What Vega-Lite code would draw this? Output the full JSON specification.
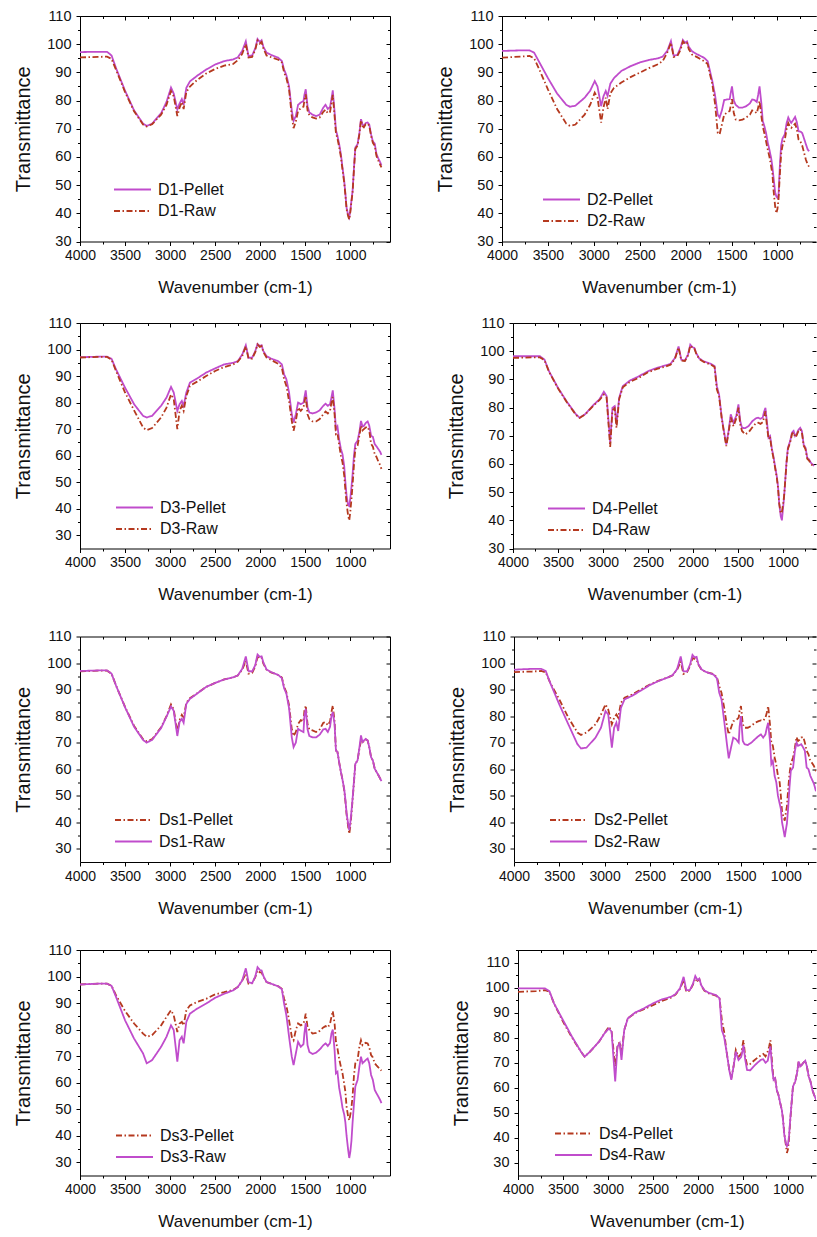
{
"$schema":"https://vega.github.io/schema/vega-lite/v6.json",
"padding":{"left":13,"top":8,"right":0,"bottom":0},
"background":"white",
"config":{"view":{"stroke":null},"font":"Liberation Sans",
"axis":{"domainColor":"#000","tickColor":"#000","labelColor":"#111","titleColor":"#111","labelFont":"Liberation Sans","titleFont":"Liberation Sans","titleFontWeight":"normal","grid":false,"tickWidth":1,"domainWidth":1,"labelFontSize":14},
"axisLeft":{"labelFontSize":14.5,"labelPadding":5,"titlePadding":13,"titleFontSize":20},
"axisBottom":{"titlePadding":17,"titleFontSize":17,"labelPadding":3},
"legend":{"labelFont":"Liberation Sans","labelColor":"#111"}},
"datasets":{
"D1":[{"x":4000,"D1-Pellet":97.2,"D1-Raw":95.3},{"x":3800,"D1-Pellet":97.3,"D1-Raw":95.5},{"x":3700,"D1-Pellet":97.3,"D1-Raw":95.6},{"x":3650,"D1-Pellet":96.0,"D1-Raw":94.8},{"x":3600,"D1-Pellet":91.5,"D1-Raw":90.9},{"x":3500,"D1-Pellet":83.5,"D1-Raw":83.0},{"x":3400,"D1-Pellet":76.5,"D1-Raw":76.2},{"x":3300,"D1-Pellet":71.8,"D1-Raw":71.5},{"x":3260,"D1-Pellet":71.0,"D1-Raw":70.8},{"x":3200,"D1-Pellet":71.8,"D1-Raw":71.6},{"x":3100,"D1-Pellet":75.5,"D1-Raw":75.0},{"x":3040,"D1-Pellet":79.5,"D1-Raw":78.5},{"x":2990,"D1-Pellet":84.6,"D1-Raw":83.4},{"x":2960,"D1-Pellet":82.5,"D1-Raw":81.5},{"x":2920,"D1-Pellet":76.8,"D1-Raw":74.5},{"x":2895,"D1-Pellet":79.0,"D1-Raw":77.5},{"x":2870,"D1-Pellet":80.5,"D1-Raw":79.5},{"x":2850,"D1-Pellet":78.5,"D1-Raw":77.0},{"x":2820,"D1-Pellet":84.5,"D1-Raw":83.0},{"x":2780,"D1-Pellet":86.8,"D1-Raw":85.0},{"x":2700,"D1-Pellet":88.8,"D1-Raw":87.3},{"x":2600,"D1-Pellet":91.0,"D1-Raw":89.6},{"x":2500,"D1-Pellet":92.8,"D1-Raw":91.2},{"x":2400,"D1-Pellet":94.0,"D1-Raw":92.4},{"x":2300,"D1-Pellet":94.6,"D1-Raw":93.0},{"x":2250,"D1-Pellet":95.3,"D1-Raw":94.3},{"x":2200,"D1-Pellet":97.6,"D1-Raw":96.6},{"x":2160,"D1-Pellet":101.0,"D1-Raw":100.0},{"x":2130,"D1-Pellet":95.8,"D1-Raw":95.3},{"x":2090,"D1-Pellet":96.0,"D1-Raw":95.5},{"x":2055,"D1-Pellet":98.5,"D1-Raw":98.0},{"x":2030,"D1-Pellet":101.8,"D1-Raw":101.3},{"x":2005,"D1-Pellet":100.8,"D1-Raw":100.2},{"x":1985,"D1-Pellet":101.4,"D1-Raw":100.8},{"x":1965,"D1-Pellet":99.0,"D1-Raw":98.5},{"x":1930,"D1-Pellet":97.0,"D1-Raw":96.0},{"x":1880,"D1-Pellet":96.2,"D1-Raw":95.4},{"x":1800,"D1-Pellet":95.2,"D1-Raw":94.5},{"x":1760,"D1-Pellet":94.0,"D1-Raw":93.5},{"x":1735,"D1-Pellet":91.0,"D1-Raw":90.0},{"x":1710,"D1-Pellet":89.0,"D1-Raw":88.0},{"x":1680,"D1-Pellet":85.0,"D1-Raw":84.0},{"x":1650,"D1-Pellet":76.5,"D1-Raw":74.5},{"x":1630,"D1-Pellet":72.8,"D1-Raw":70.2},{"x":1605,"D1-Pellet":74.5,"D1-Raw":72.5},{"x":1580,"D1-Pellet":78.5,"D1-Raw":76.3},{"x":1550,"D1-Pellet":79.3,"D1-Raw":77.3},{"x":1520,"D1-Pellet":79.8,"D1-Raw":77.8},{"x":1510,"D1-Pellet":82.0,"D1-Raw":80.0},{"x":1495,"D1-Pellet":84.0,"D1-Raw":82.2},{"x":1475,"D1-Pellet":78.0,"D1-Raw":76.5},{"x":1455,"D1-Pellet":75.8,"D1-Raw":74.8},{"x":1420,"D1-Pellet":75.0,"D1-Raw":74.0},{"x":1380,"D1-Pellet":74.5,"D1-Raw":73.6},{"x":1340,"D1-Pellet":75.0,"D1-Raw":74.0},{"x":1300,"D1-Pellet":77.5,"D1-Raw":76.0},{"x":1275,"D1-Pellet":78.5,"D1-Raw":76.8},{"x":1250,"D1-Pellet":77.0,"D1-Raw":75.5},{"x":1225,"D1-Pellet":77.8,"D1-Raw":76.0},{"x":1210,"D1-Pellet":80.5,"D1-Raw":79.0},{"x":1195,"D1-Pellet":83.6,"D1-Raw":82.0},{"x":1175,"D1-Pellet":76.0,"D1-Raw":74.5},{"x":1160,"D1-Pellet":69.5,"D1-Raw":68.5},{"x":1143,"D1-Pellet":67.5,"D1-Raw":66.5},{"x":1124,"D1-Pellet":64.5,"D1-Raw":63.5},{"x":1105,"D1-Pellet":61.0,"D1-Raw":60.0},{"x":1087,"D1-Pellet":56.2,"D1-Raw":55.5},{"x":1068,"D1-Pellet":51.5,"D1-Raw":50.8},{"x":1055,"D1-Pellet":47.0,"D1-Raw":46.5},{"x":1042,"D1-Pellet":42.0,"D1-Raw":41.5},{"x":1025,"D1-Pellet":39.5,"D1-Raw":39.0},{"x":1012,"D1-Pellet":38.5,"D1-Raw":37.8},{"x":1000,"D1-Pellet":41.0,"D1-Raw":40.5},{"x":988,"D1-Pellet":44.5,"D1-Raw":44.0},{"x":975,"D1-Pellet":48.0,"D1-Raw":47.5},{"x":960,"D1-Pellet":56.0,"D1-Raw":55.5},{"x":945,"D1-Pellet":63.3,"D1-Raw":62.8},{"x":920,"D1-Pellet":64.5,"D1-Raw":64.0},{"x":900,"D1-Pellet":68.5,"D1-Raw":68.0},{"x":882,"D1-Pellet":73.4,"D1-Raw":73.0},{"x":865,"D1-Pellet":71.5,"D1-Raw":71.0},{"x":850,"D1-Pellet":71.0,"D1-Raw":70.5},{"x":830,"D1-Pellet":72.0,"D1-Raw":71.6},{"x":808,"D1-Pellet":72.2,"D1-Raw":71.8},{"x":790,"D1-Pellet":71.5,"D1-Raw":71.0},{"x":770,"D1-Pellet":68.0,"D1-Raw":67.5},{"x":750,"D1-Pellet":65.5,"D1-Raw":65.0},{"x":730,"D1-Pellet":64.8,"D1-Raw":64.0},{"x":710,"D1-Pellet":61.0,"D1-Raw":60.3},{"x":690,"D1-Pellet":59.5,"D1-Raw":58.7},{"x":670,"D1-Pellet":58.2,"D1-Raw":57.3},{"x":655,"D1-Pellet":57.0,"D1-Raw":56.3}],
"D2":[{"x":4000,"D2-Pellet":97.6,"D2-Raw":95.2},{"x":3800,"D2-Pellet":97.8,"D2-Raw":95.6},{"x":3700,"D2-Pellet":97.8,"D2-Raw":95.8},{"x":3650,"D2-Pellet":97.0,"D2-Raw":95.0},{"x":3600,"D2-Pellet":94.0,"D2-Raw":91.5},{"x":3500,"D2-Pellet":88.0,"D2-Raw":84.0},{"x":3400,"D2-Pellet":82.5,"D2-Raw":77.0},{"x":3300,"D2-Pellet":78.5,"D2-Raw":71.8},{"x":3260,"D2-Pellet":77.8,"D2-Raw":71.0},{"x":3200,"D2-Pellet":78.2,"D2-Raw":71.5},{"x":3100,"D2-Pellet":81.0,"D2-Raw":75.0},{"x":3040,"D2-Pellet":83.5,"D2-Raw":78.5},{"x":2990,"D2-Pellet":86.9,"D2-Raw":82.8},{"x":2960,"D2-Pellet":85.0,"D2-Raw":81.0},{"x":2920,"D2-Pellet":78.0,"D2-Raw":72.2},{"x":2895,"D2-Pellet":81.5,"D2-Raw":77.5},{"x":2870,"D2-Pellet":83.4,"D2-Raw":81.0},{"x":2850,"D2-Pellet":81.6,"D2-Raw":77.0},{"x":2820,"D2-Pellet":86.0,"D2-Raw":82.5},{"x":2780,"D2-Pellet":88.0,"D2-Raw":84.5},{"x":2700,"D2-Pellet":90.5,"D2-Raw":86.4},{"x":2600,"D2-Pellet":92.2,"D2-Raw":88.3},{"x":2500,"D2-Pellet":93.5,"D2-Raw":89.9},{"x":2400,"D2-Pellet":94.4,"D2-Raw":91.5},{"x":2300,"D2-Pellet":95.0,"D2-Raw":92.9},{"x":2250,"D2-Pellet":95.6,"D2-Raw":94.0},{"x":2200,"D2-Pellet":97.6,"D2-Raw":97.0},{"x":2160,"D2-Pellet":101.1,"D2-Raw":100.5},{"x":2130,"D2-Pellet":95.9,"D2-Raw":95.5},{"x":2090,"D2-Pellet":96.2,"D2-Raw":95.8},{"x":2055,"D2-Pellet":98.8,"D2-Raw":98.0},{"x":2030,"D2-Pellet":101.5,"D2-Raw":101.0},{"x":2005,"D2-Pellet":100.5,"D2-Raw":100.0},{"x":1985,"D2-Pellet":101.0,"D2-Raw":100.4},{"x":1965,"D2-Pellet":99.0,"D2-Raw":98.2},{"x":1930,"D2-Pellet":97.5,"D2-Raw":96.3},{"x":1880,"D2-Pellet":96.5,"D2-Raw":95.5},{"x":1800,"D2-Pellet":95.2,"D2-Raw":94.0},{"x":1760,"D2-Pellet":94.0,"D2-Raw":93.0},{"x":1735,"D2-Pellet":90.5,"D2-Raw":89.3},{"x":1710,"D2-Pellet":87.0,"D2-Raw":86.0},{"x":1680,"D2-Pellet":82.0,"D2-Raw":79.0},{"x":1650,"D2-Pellet":75.0,"D2-Raw":68.5},{"x":1630,"D2-Pellet":74.0,"D2-Raw":68.0},{"x":1605,"D2-Pellet":76.5,"D2-Raw":71.5},{"x":1580,"D2-Pellet":80.2,"D2-Raw":75.0},{"x":1550,"D2-Pellet":80.4,"D2-Raw":75.7},{"x":1520,"D2-Pellet":80.5,"D2-Raw":76.3},{"x":1510,"D2-Pellet":82.5,"D2-Raw":78.0},{"x":1495,"D2-Pellet":85.0,"D2-Raw":80.5},{"x":1475,"D2-Pellet":80.0,"D2-Raw":75.5},{"x":1455,"D2-Pellet":78.5,"D2-Raw":73.3},{"x":1420,"D2-Pellet":77.5,"D2-Raw":73.0},{"x":1380,"D2-Pellet":77.5,"D2-Raw":73.2},{"x":1340,"D2-Pellet":78.0,"D2-Raw":74.0},{"x":1300,"D2-Pellet":79.0,"D2-Raw":75.0},{"x":1275,"D2-Pellet":80.4,"D2-Raw":76.5},{"x":1250,"D2-Pellet":80.2,"D2-Raw":76.2},{"x":1225,"D2-Pellet":79.5,"D2-Raw":75.5},{"x":1210,"D2-Pellet":82.0,"D2-Raw":77.5},{"x":1195,"D2-Pellet":85.0,"D2-Raw":79.8},{"x":1175,"D2-Pellet":79.0,"D2-Raw":74.5},{"x":1160,"D2-Pellet":72.7,"D2-Raw":70.9},{"x":1143,"D2-Pellet":71.0,"D2-Raw":68.5},{"x":1124,"D2-Pellet":68.5,"D2-Raw":65.5},{"x":1105,"D2-Pellet":65.0,"D2-Raw":62.5},{"x":1087,"D2-Pellet":62.5,"D2-Raw":60.0},{"x":1068,"D2-Pellet":59.5,"D2-Raw":56.5},{"x":1055,"D2-Pellet":56.5,"D2-Raw":54.0},{"x":1042,"D2-Pellet":52.5,"D2-Raw":48.0},{"x":1025,"D2-Pellet":47.5,"D2-Raw":42.5},{"x":1012,"D2-Pellet":46.0,"D2-Raw":40.0},{"x":1000,"D2-Pellet":45.5,"D2-Raw":41.5},{"x":988,"D2-Pellet":46.5,"D2-Raw":45.0},{"x":975,"D2-Pellet":56.0,"D2-Raw":53.0},{"x":960,"D2-Pellet":64.0,"D2-Raw":61.0},{"x":945,"D2-Pellet":66.5,"D2-Raw":64.0},{"x":920,"D2-Pellet":68.0,"D2-Raw":66.0},{"x":900,"D2-Pellet":72.0,"D2-Raw":70.0},{"x":882,"D2-Pellet":74.0,"D2-Raw":72.0},{"x":865,"D2-Pellet":72.8,"D2-Raw":70.8},{"x":850,"D2-Pellet":72.1,"D2-Raw":70.3},{"x":830,"D2-Pellet":73.0,"D2-Raw":71.0},{"x":808,"D2-Pellet":74.2,"D2-Raw":71.8},{"x":790,"D2-Pellet":72.5,"D2-Raw":70.0},{"x":770,"D2-Pellet":69.1,"D2-Raw":66.2},{"x":750,"D2-Pellet":69.0,"D2-Raw":65.5},{"x":730,"D2-Pellet":68.5,"D2-Raw":64.0},{"x":710,"D2-Pellet":66.5,"D2-Raw":61.5},{"x":690,"D2-Pellet":64.5,"D2-Raw":59.0},{"x":670,"D2-Pellet":62.6,"D2-Raw":57.3},{"x":655,"D2-Pellet":62.0,"D2-Raw":56.5}],
"D3":[{"x":4000,"D3-Pellet":97.1,"D3-Raw":97.0},{"x":3800,"D3-Pellet":97.3,"D3-Raw":97.2},{"x":3700,"D3-Pellet":97.3,"D3-Raw":97.2},{"x":3650,"D3-Pellet":96.5,"D3-Raw":96.2},{"x":3600,"D3-Pellet":92.5,"D3-Raw":91.9},{"x":3500,"D3-Pellet":85.6,"D3-Raw":83.8},{"x":3400,"D3-Pellet":79.4,"D3-Raw":77.1},{"x":3300,"D3-Pellet":75.0,"D3-Raw":70.6},{"x":3260,"D3-Pellet":74.4,"D3-Raw":69.6},{"x":3200,"D3-Pellet":75.0,"D3-Raw":70.4},{"x":3100,"D3-Pellet":78.8,"D3-Raw":74.4},{"x":3040,"D3-Pellet":81.9,"D3-Raw":78.1},{"x":2990,"D3-Pellet":85.9,"D3-Raw":83.1},{"x":2960,"D3-Pellet":83.8,"D3-Raw":81.3},{"x":2920,"D3-Pellet":76.9,"D3-Raw":70.0},{"x":2895,"D3-Pellet":79.4,"D3-Raw":76.9},{"x":2870,"D3-Pellet":80.6,"D3-Raw":78.8},{"x":2850,"D3-Pellet":78.8,"D3-Raw":76.9},{"x":2820,"D3-Pellet":83.8,"D3-Raw":82.5},{"x":2780,"D3-Pellet":87.5,"D3-Raw":86.3},{"x":2700,"D3-Pellet":89.1,"D3-Raw":87.9},{"x":2600,"D3-Pellet":91.3,"D3-Raw":90.0},{"x":2500,"D3-Pellet":92.9,"D3-Raw":91.9},{"x":2400,"D3-Pellet":94.4,"D3-Raw":93.4},{"x":2300,"D3-Pellet":95.0,"D3-Raw":94.4},{"x":2250,"D3-Pellet":95.6,"D3-Raw":95.4},{"x":2200,"D3-Pellet":98.1,"D3-Raw":97.5},{"x":2160,"D3-Pellet":101.6,"D3-Raw":101.2},{"x":2130,"D3-Pellet":96.9,"D3-Raw":96.6},{"x":2090,"D3-Pellet":96.9,"D3-Raw":96.6},{"x":2055,"D3-Pellet":99.4,"D3-Raw":99.0},{"x":2030,"D3-Pellet":102.1,"D3-Raw":101.9},{"x":2005,"D3-Pellet":101.3,"D3-Raw":101.0},{"x":1985,"D3-Pellet":101.6,"D3-Raw":101.3},{"x":1965,"D3-Pellet":99.4,"D3-Raw":99.0},{"x":1930,"D3-Pellet":97.5,"D3-Raw":97.0},{"x":1880,"D3-Pellet":96.6,"D3-Raw":96.1},{"x":1800,"D3-Pellet":95.6,"D3-Raw":94.6},{"x":1760,"D3-Pellet":94.4,"D3-Raw":93.1},{"x":1735,"D3-Pellet":90.6,"D3-Raw":88.8},{"x":1710,"D3-Pellet":88.8,"D3-Raw":86.3},{"x":1680,"D3-Pellet":83.8,"D3-Raw":80.6},{"x":1650,"D3-Pellet":75.6,"D3-Raw":73.1},{"x":1630,"D3-Pellet":72.5,"D3-Raw":69.4},{"x":1605,"D3-Pellet":75.6,"D3-Raw":73.1},{"x":1580,"D3-Pellet":80.0,"D3-Raw":78.1},{"x":1550,"D3-Pellet":79.4,"D3-Raw":76.9},{"x":1520,"D3-Pellet":80.0,"D3-Raw":78.1},{"x":1510,"D3-Pellet":81.9,"D3-Raw":80.0},{"x":1495,"D3-Pellet":84.6,"D3-Raw":82.5},{"x":1475,"D3-Pellet":78.1,"D3-Raw":75.6},{"x":1455,"D3-Pellet":76.3,"D3-Raw":73.8},{"x":1420,"D3-Pellet":75.9,"D3-Raw":72.9},{"x":1380,"D3-Pellet":76.3,"D3-Raw":72.9},{"x":1340,"D3-Pellet":77.1,"D3-Raw":73.8},{"x":1300,"D3-Pellet":78.8,"D3-Raw":75.6},{"x":1275,"D3-Pellet":79.6,"D3-Raw":76.6},{"x":1250,"D3-Pellet":78.8,"D3-Raw":75.9},{"x":1225,"D3-Pellet":79.4,"D3-Raw":76.9},{"x":1210,"D3-Pellet":81.9,"D3-Raw":80.0},{"x":1195,"D3-Pellet":84.6,"D3-Raw":82.1},{"x":1175,"D3-Pellet":77.5,"D3-Raw":75.5},{"x":1160,"D3-Pellet":70.0,"D3-Raw":68.1},{"x":1143,"D3-Pellet":71.0,"D3-Raw":68.5},{"x":1124,"D3-Pellet":66.0,"D3-Raw":64.0},{"x":1105,"D3-Pellet":62.5,"D3-Raw":60.0},{"x":1087,"D3-Pellet":60.5,"D3-Raw":57.5},{"x":1068,"D3-Pellet":56.0,"D3-Raw":52.5},{"x":1055,"D3-Pellet":50.0,"D3-Raw":47.0},{"x":1042,"D3-Pellet":45.0,"D3-Raw":42.0},{"x":1025,"D3-Pellet":41.3,"D3-Raw":37.5},{"x":1012,"D3-Pellet":41.0,"D3-Raw":35.6},{"x":1000,"D3-Pellet":44.0,"D3-Raw":39.0},{"x":988,"D3-Pellet":48.0,"D3-Raw":43.5},{"x":975,"D3-Pellet":53.0,"D3-Raw":49.0},{"x":960,"D3-Pellet":60.0,"D3-Raw":56.5},{"x":945,"D3-Pellet":64.4,"D3-Raw":62.5},{"x":920,"D3-Pellet":65.6,"D3-Raw":63.8},{"x":900,"D3-Pellet":68.8,"D3-Raw":67.5},{"x":882,"D3-Pellet":73.1,"D3-Raw":71.3},{"x":865,"D3-Pellet":71.0,"D3-Raw":69.5},{"x":850,"D3-Pellet":71.2,"D3-Raw":70.0},{"x":830,"D3-Pellet":72.3,"D3-Raw":70.6},{"x":808,"D3-Pellet":72.9,"D3-Raw":70.9},{"x":790,"D3-Pellet":71.3,"D3-Raw":69.4},{"x":770,"D3-Pellet":67.5,"D3-Raw":64.4},{"x":750,"D3-Pellet":67.1,"D3-Raw":63.4},{"x":730,"D3-Pellet":64.4,"D3-Raw":60.6},{"x":710,"D3-Pellet":63.5,"D3-Raw":59.5},{"x":690,"D3-Pellet":62.5,"D3-Raw":57.8},{"x":670,"D3-Pellet":61.5,"D3-Raw":56.5},{"x":655,"D3-Pellet":60.3,"D3-Raw":55.0}],
"D4":[{"x":4000,"D4-Pellet":98.2,"D4-Raw":97.6},{"x":3800,"D4-Pellet":98.2,"D4-Raw":97.8},{"x":3700,"D4-Pellet":98.2,"D4-Raw":97.8},{"x":3650,"D4-Pellet":97.0,"D4-Raw":96.8},{"x":3600,"D4-Pellet":92.9,"D4-Raw":92.7},{"x":3500,"D4-Pellet":87.0,"D4-Raw":86.8},{"x":3400,"D4-Pellet":82.0,"D4-Raw":81.8},{"x":3300,"D4-Pellet":77.6,"D4-Raw":77.4},{"x":3260,"D4-Pellet":76.4,"D4-Raw":76.3},{"x":3200,"D4-Pellet":77.6,"D4-Raw":77.5},{"x":3100,"D4-Pellet":81.1,"D4-Raw":80.9},{"x":3040,"D4-Pellet":82.9,"D4-Raw":82.6},{"x":2990,"D4-Pellet":85.6,"D4-Raw":84.6},{"x":2960,"D4-Pellet":84.1,"D4-Raw":83.6},{"x":2920,"D4-Pellet":67.5,"D4-Raw":66.0},{"x":2895,"D4-Pellet":79.9,"D4-Raw":79.0},{"x":2870,"D4-Pellet":80.5,"D4-Raw":79.8},{"x":2850,"D4-Pellet":74.0,"D4-Raw":72.8},{"x":2820,"D4-Pellet":83.5,"D4-Raw":83.0},{"x":2780,"D4-Pellet":87.6,"D4-Raw":87.2},{"x":2700,"D4-Pellet":89.6,"D4-Raw":89.1},{"x":2600,"D4-Pellet":91.1,"D4-Raw":90.6},{"x":2500,"D4-Pellet":92.9,"D4-Raw":92.5},{"x":2400,"D4-Pellet":94.1,"D4-Raw":93.7},{"x":2300,"D4-Pellet":95.0,"D4-Raw":94.6},{"x":2250,"D4-Pellet":95.5,"D4-Raw":95.2},{"x":2200,"D4-Pellet":97.6,"D4-Raw":97.3},{"x":2160,"D4-Pellet":101.7,"D4-Raw":101.3},{"x":2130,"D4-Pellet":97.0,"D4-Raw":96.7},{"x":2090,"D4-Pellet":96.7,"D4-Raw":96.5},{"x":2055,"D4-Pellet":98.8,"D4-Raw":98.5},{"x":2030,"D4-Pellet":102.3,"D4-Raw":102.0},{"x":2005,"D4-Pellet":101.4,"D4-Raw":101.2},{"x":1985,"D4-Pellet":101.2,"D4-Raw":101.0},{"x":1965,"D4-Pellet":99.4,"D4-Raw":99.2},{"x":1930,"D4-Pellet":97.4,"D4-Raw":97.2},{"x":1880,"D4-Pellet":96.4,"D4-Raw":96.2},{"x":1800,"D4-Pellet":95.5,"D4-Raw":95.2},{"x":1760,"D4-Pellet":94.7,"D4-Raw":94.4},{"x":1735,"D4-Pellet":87.6,"D4-Raw":86.5},{"x":1710,"D4-Pellet":84.6,"D4-Raw":84.0},{"x":1680,"D4-Pellet":76.4,"D4-Raw":76.0},{"x":1650,"D4-Pellet":70.5,"D4-Raw":70.0},{"x":1630,"D4-Pellet":66.9,"D4-Raw":66.3},{"x":1605,"D4-Pellet":71.6,"D4-Raw":71.0},{"x":1580,"D4-Pellet":77.6,"D4-Raw":76.5},{"x":1550,"D4-Pellet":74.6,"D4-Raw":73.4},{"x":1520,"D4-Pellet":77.0,"D4-Raw":76.0},{"x":1510,"D4-Pellet":78.5,"D4-Raw":77.5},{"x":1495,"D4-Pellet":81.1,"D4-Raw":80.0},{"x":1475,"D4-Pellet":75.2,"D4-Raw":74.0},{"x":1455,"D4-Pellet":72.8,"D4-Raw":71.7},{"x":1420,"D4-Pellet":72.7,"D4-Raw":70.5},{"x":1380,"D4-Pellet":73.5,"D4-Raw":71.3},{"x":1340,"D4-Pellet":75.2,"D4-Raw":73.0},{"x":1300,"D4-Pellet":76.2,"D4-Raw":74.5},{"x":1275,"D4-Pellet":76.4,"D4-Raw":74.6},{"x":1250,"D4-Pellet":76.0,"D4-Raw":74.2},{"x":1225,"D4-Pellet":76.5,"D4-Raw":74.8},{"x":1210,"D4-Pellet":78.5,"D4-Raw":76.5},{"x":1195,"D4-Pellet":79.9,"D4-Raw":78.7},{"x":1175,"D4-Pellet":74.0,"D4-Raw":72.5},{"x":1160,"D4-Pellet":69.3,"D4-Raw":68.8},{"x":1143,"D4-Pellet":69.9,"D4-Raw":69.2},{"x":1124,"D4-Pellet":65.5,"D4-Raw":65.0},{"x":1105,"D4-Pellet":62.5,"D4-Raw":62.0},{"x":1087,"D4-Pellet":59.0,"D4-Raw":58.5},{"x":1068,"D4-Pellet":55.5,"D4-Raw":55.0},{"x":1055,"D4-Pellet":52.0,"D4-Raw":51.5},{"x":1042,"D4-Pellet":46.0,"D4-Raw":46.0},{"x":1025,"D4-Pellet":41.5,"D4-Raw":42.5},{"x":1012,"D4-Pellet":40.0,"D4-Raw":43.0},{"x":1000,"D4-Pellet":44.0,"D4-Raw":45.5},{"x":988,"D4-Pellet":48.0,"D4-Raw":48.5},{"x":975,"D4-Pellet":54.0,"D4-Raw":54.0},{"x":960,"D4-Pellet":61.0,"D4-Raw":60.5},{"x":945,"D4-Pellet":65.8,"D4-Raw":65.3},{"x":920,"D4-Pellet":68.1,"D4-Raw":67.6},{"x":900,"D4-Pellet":71.1,"D4-Raw":70.6},{"x":882,"D4-Pellet":71.7,"D4-Raw":71.2},{"x":865,"D4-Pellet":69.9,"D4-Raw":69.5},{"x":850,"D4-Pellet":70.5,"D4-Raw":70.0},{"x":830,"D4-Pellet":72.0,"D4-Raw":71.5},{"x":808,"D4-Pellet":72.8,"D4-Raw":72.3},{"x":790,"D4-Pellet":71.7,"D4-Raw":71.2},{"x":770,"D4-Pellet":66.9,"D4-Raw":66.5},{"x":750,"D4-Pellet":65.8,"D4-Raw":65.3},{"x":730,"D4-Pellet":62.2,"D4-Raw":61.8},{"x":710,"D4-Pellet":61.6,"D4-Raw":61.2},{"x":690,"D4-Pellet":60.4,"D4-Raw":60.0},{"x":670,"D4-Pellet":59.8,"D4-Raw":59.4},{"x":655,"D4-Pellet":59.3,"D4-Raw":59.0}],
"Ds1":[{"x":4000,"Ds1-Pellet":96.9,"Ds1-Raw":97.0},{"x":3800,"Ds1-Pellet":97.1,"Ds1-Raw":97.2},{"x":3700,"Ds1-Pellet":97.1,"Ds1-Raw":97.2},{"x":3650,"Ds1-Pellet":96.0,"Ds1-Raw":96.0},{"x":3600,"Ds1-Pellet":91.5,"Ds1-Raw":91.5},{"x":3500,"Ds1-Pellet":83.5,"Ds1-Raw":83.3},{"x":3400,"Ds1-Pellet":76.3,"Ds1-Raw":76.0},{"x":3300,"Ds1-Pellet":71.3,"Ds1-Raw":71.0},{"x":3260,"Ds1-Pellet":70.5,"Ds1-Raw":70.0},{"x":3200,"Ds1-Pellet":71.3,"Ds1-Raw":71.0},{"x":3100,"Ds1-Pellet":75.8,"Ds1-Raw":75.5},{"x":3040,"Ds1-Pellet":80.0,"Ds1-Raw":79.8},{"x":2990,"Ds1-Pellet":84.4,"Ds1-Raw":83.6},{"x":2960,"Ds1-Pellet":82.5,"Ds1-Raw":82.0},{"x":2920,"Ds1-Pellet":74.0,"Ds1-Raw":72.5},{"x":2895,"Ds1-Pellet":78.5,"Ds1-Raw":77.8},{"x":2870,"Ds1-Pellet":80.5,"Ds1-Raw":79.0},{"x":2850,"Ds1-Pellet":79.5,"Ds1-Raw":77.5},{"x":2820,"Ds1-Pellet":85.0,"Ds1-Raw":84.6},{"x":2780,"Ds1-Pellet":86.8,"Ds1-Raw":86.5},{"x":2700,"Ds1-Pellet":88.6,"Ds1-Raw":88.5},{"x":2600,"Ds1-Pellet":91.0,"Ds1-Raw":91.0},{"x":2500,"Ds1-Pellet":92.5,"Ds1-Raw":92.5},{"x":2400,"Ds1-Pellet":93.8,"Ds1-Raw":93.8},{"x":2300,"Ds1-Pellet":94.6,"Ds1-Raw":94.6},{"x":2250,"Ds1-Pellet":95.3,"Ds1-Raw":95.3},{"x":2200,"Ds1-Pellet":97.5,"Ds1-Raw":97.8},{"x":2160,"Ds1-Pellet":100.8,"Ds1-Raw":102.5},{"x":2130,"Ds1-Pellet":96.0,"Ds1-Raw":97.0},{"x":2090,"Ds1-Pellet":96.3,"Ds1-Raw":96.8},{"x":2055,"Ds1-Pellet":98.8,"Ds1-Raw":99.2},{"x":2030,"Ds1-Pellet":102.3,"Ds1-Raw":103.2},{"x":2005,"Ds1-Pellet":101.8,"Ds1-Raw":102.3},{"x":1985,"Ds1-Pellet":102.0,"Ds1-Raw":102.5},{"x":1965,"Ds1-Pellet":99.8,"Ds1-Raw":100.2},{"x":1930,"Ds1-Pellet":97.5,"Ds1-Raw":97.6},{"x":1880,"Ds1-Pellet":96.5,"Ds1-Raw":96.6},{"x":1800,"Ds1-Pellet":95.5,"Ds1-Raw":95.5},{"x":1760,"Ds1-Pellet":94.5,"Ds1-Raw":94.3},{"x":1735,"Ds1-Pellet":91.0,"Ds1-Raw":90.5},{"x":1710,"Ds1-Pellet":89.0,"Ds1-Raw":88.5},{"x":1680,"Ds1-Pellet":84.0,"Ds1-Raw":83.0},{"x":1650,"Ds1-Pellet":75.0,"Ds1-Raw":72.0},{"x":1630,"Ds1-Pellet":72.5,"Ds1-Raw":68.3},{"x":1605,"Ds1-Pellet":74.0,"Ds1-Raw":70.0},{"x":1580,"Ds1-Pellet":77.0,"Ds1-Raw":75.2},{"x":1550,"Ds1-Pellet":78.5,"Ds1-Raw":74.5},{"x":1520,"Ds1-Pellet":78.0,"Ds1-Raw":74.0},{"x":1510,"Ds1-Pellet":82.0,"Ds1-Raw":80.0},{"x":1495,"Ds1-Pellet":84.0,"Ds1-Raw":82.7},{"x":1475,"Ds1-Pellet":77.0,"Ds1-Raw":75.0},{"x":1455,"Ds1-Pellet":75.0,"Ds1-Raw":72.5},{"x":1420,"Ds1-Pellet":74.6,"Ds1-Raw":72.0},{"x":1380,"Ds1-Pellet":74.0,"Ds1-Raw":72.0},{"x":1340,"Ds1-Pellet":75.0,"Ds1-Raw":73.0},{"x":1300,"Ds1-Pellet":77.5,"Ds1-Raw":75.0},{"x":1275,"Ds1-Pellet":77.7,"Ds1-Raw":75.2},{"x":1250,"Ds1-Pellet":76.5,"Ds1-Raw":74.0},{"x":1225,"Ds1-Pellet":78.0,"Ds1-Raw":76.0},{"x":1210,"Ds1-Pellet":81.5,"Ds1-Raw":80.0},{"x":1195,"Ds1-Pellet":84.0,"Ds1-Raw":81.5},{"x":1175,"Ds1-Pellet":78.0,"Ds1-Raw":77.0},{"x":1160,"Ds1-Pellet":67.0,"Ds1-Raw":67.0},{"x":1143,"Ds1-Pellet":66.5,"Ds1-Raw":66.5},{"x":1124,"Ds1-Pellet":62.5,"Ds1-Raw":62.5},{"x":1105,"Ds1-Pellet":59.0,"Ds1-Raw":59.0},{"x":1087,"Ds1-Pellet":56.0,"Ds1-Raw":56.0},{"x":1068,"Ds1-Pellet":52.0,"Ds1-Raw":52.5},{"x":1055,"Ds1-Pellet":48.0,"Ds1-Raw":48.5},{"x":1042,"Ds1-Pellet":43.0,"Ds1-Raw":43.5},{"x":1025,"Ds1-Pellet":38.5,"Ds1-Raw":39.5},{"x":1012,"Ds1-Pellet":35.6,"Ds1-Raw":37.0},{"x":1000,"Ds1-Pellet":38.5,"Ds1-Raw":40.0},{"x":988,"Ds1-Pellet":43.0,"Ds1-Raw":44.0},{"x":975,"Ds1-Pellet":48.5,"Ds1-Raw":49.0},{"x":960,"Ds1-Pellet":55.0,"Ds1-Raw":55.5},{"x":945,"Ds1-Pellet":62.0,"Ds1-Raw":62.0},{"x":920,"Ds1-Pellet":63.3,"Ds1-Raw":63.3},{"x":900,"Ds1-Pellet":67.5,"Ds1-Raw":68.0},{"x":882,"Ds1-Pellet":70.8,"Ds1-Raw":72.7},{"x":865,"Ds1-Pellet":70.2,"Ds1-Raw":70.2},{"x":850,"Ds1-Pellet":70.5,"Ds1-Raw":70.8},{"x":830,"Ds1-Pellet":71.2,"Ds1-Raw":71.4},{"x":808,"Ds1-Pellet":70.8,"Ds1-Raw":70.8},{"x":790,"Ds1-Pellet":68.3,"Ds1-Raw":68.3},{"x":770,"Ds1-Pellet":64.5,"Ds1-Raw":64.5},{"x":750,"Ds1-Pellet":63.3,"Ds1-Raw":63.3},{"x":730,"Ds1-Pellet":60.2,"Ds1-Raw":60.2},{"x":710,"Ds1-Pellet":59.0,"Ds1-Raw":59.0},{"x":690,"Ds1-Pellet":57.8,"Ds1-Raw":57.8},{"x":670,"Ds1-Pellet":56.5,"Ds1-Raw":56.5},{"x":655,"Ds1-Pellet":55.5,"Ds1-Raw":55.5}],
"Ds2":[{"x":4000,"Ds2-Pellet":96.6,"Ds2-Raw":97.5},{"x":3800,"Ds2-Pellet":96.8,"Ds2-Raw":97.8},{"x":3700,"Ds2-Pellet":97.0,"Ds2-Raw":97.8},{"x":3650,"Ds2-Pellet":96.5,"Ds2-Raw":97.0},{"x":3600,"Ds2-Pellet":92.5,"Ds2-Raw":92.5},{"x":3500,"Ds2-Pellet":86.3,"Ds2-Raw":84.4},{"x":3400,"Ds2-Pellet":79.4,"Ds2-Raw":76.9},{"x":3300,"Ds2-Pellet":73.8,"Ds2-Raw":69.4},{"x":3260,"Ds2-Pellet":72.9,"Ds2-Raw":67.8},{"x":3200,"Ds2-Pellet":73.8,"Ds2-Raw":68.1},{"x":3100,"Ds2-Pellet":76.9,"Ds2-Raw":71.9},{"x":3040,"Ds2-Pellet":80.6,"Ds2-Raw":75.6},{"x":2990,"Ds2-Pellet":84.4,"Ds2-Raw":81.9},{"x":2960,"Ds2-Pellet":82.5,"Ds2-Raw":80.6},{"x":2920,"Ds2-Pellet":76.9,"Ds2-Raw":68.1},{"x":2895,"Ds2-Pellet":79.4,"Ds2-Raw":75.6},{"x":2870,"Ds2-Pellet":80.6,"Ds2-Raw":77.5},{"x":2850,"Ds2-Pellet":79.4,"Ds2-Raw":74.4},{"x":2820,"Ds2-Pellet":85.0,"Ds2-Raw":83.1},{"x":2780,"Ds2-Pellet":86.9,"Ds2-Raw":86.3},{"x":2700,"Ds2-Pellet":88.1,"Ds2-Raw":87.6},{"x":2600,"Ds2-Pellet":90.0,"Ds2-Raw":89.6},{"x":2500,"Ds2-Pellet":91.9,"Ds2-Raw":91.7},{"x":2400,"Ds2-Pellet":93.4,"Ds2-Raw":93.3},{"x":2300,"Ds2-Pellet":94.6,"Ds2-Raw":94.6},{"x":2250,"Ds2-Pellet":95.4,"Ds2-Raw":95.4},{"x":2200,"Ds2-Pellet":97.5,"Ds2-Raw":97.7},{"x":2160,"Ds2-Pellet":100.6,"Ds2-Raw":102.5},{"x":2130,"Ds2-Pellet":95.9,"Ds2-Raw":96.9},{"x":2090,"Ds2-Pellet":96.6,"Ds2-Raw":96.8},{"x":2055,"Ds2-Pellet":99.0,"Ds2-Raw":99.6},{"x":2030,"Ds2-Pellet":101.9,"Ds2-Raw":103.1},{"x":2005,"Ds2-Pellet":101.6,"Ds2-Raw":102.1},{"x":1985,"Ds2-Pellet":101.3,"Ds2-Raw":102.3},{"x":1965,"Ds2-Pellet":99.4,"Ds2-Raw":99.6},{"x":1930,"Ds2-Pellet":97.5,"Ds2-Raw":97.6},{"x":1880,"Ds2-Pellet":96.6,"Ds2-Raw":96.6},{"x":1800,"Ds2-Pellet":95.9,"Ds2-Raw":95.7},{"x":1760,"Ds2-Pellet":94.6,"Ds2-Raw":94.2},{"x":1735,"Ds2-Pellet":91.3,"Ds2-Raw":88.8},{"x":1710,"Ds2-Pellet":88.8,"Ds2-Raw":86.3},{"x":1680,"Ds2-Pellet":83.1,"Ds2-Raw":78.1},{"x":1650,"Ds2-Pellet":76.3,"Ds2-Raw":69.4},{"x":1630,"Ds2-Pellet":73.1,"Ds2-Raw":64.1},{"x":1605,"Ds2-Pellet":75.6,"Ds2-Raw":68.1},{"x":1580,"Ds2-Pellet":78.1,"Ds2-Raw":71.9},{"x":1550,"Ds2-Pellet":78.4,"Ds2-Raw":71.3},{"x":1520,"Ds2-Pellet":79.4,"Ds2-Raw":70.0},{"x":1510,"Ds2-Pellet":82.0,"Ds2-Raw":76.0},{"x":1495,"Ds2-Pellet":83.8,"Ds2-Raw":80.0},{"x":1475,"Ds2-Pellet":76.9,"Ds2-Raw":70.6},{"x":1455,"Ds2-Pellet":75.6,"Ds2-Raw":69.4},{"x":1420,"Ds2-Pellet":75.6,"Ds2-Raw":69.1},{"x":1380,"Ds2-Pellet":76.3,"Ds2-Raw":70.0},{"x":1340,"Ds2-Pellet":77.5,"Ds2-Raw":71.3},{"x":1300,"Ds2-Pellet":78.1,"Ds2-Raw":72.5},{"x":1275,"Ds2-Pellet":78.4,"Ds2-Raw":73.1},{"x":1250,"Ds2-Pellet":78.2,"Ds2-Raw":71.9},{"x":1225,"Ds2-Pellet":79.4,"Ds2-Raw":73.1},{"x":1210,"Ds2-Pellet":81.3,"Ds2-Raw":75.6},{"x":1195,"Ds2-Pellet":83.8,"Ds2-Raw":77.5},{"x":1175,"Ds2-Pellet":76.9,"Ds2-Raw":70.6},{"x":1160,"Ds2-Pellet":70.0,"Ds2-Raw":61.9},{"x":1143,"Ds2-Pellet":68.8,"Ds2-Raw":63.1},{"x":1124,"Ds2-Pellet":64.5,"Ds2-Raw":57.5},{"x":1105,"Ds2-Pellet":61.5,"Ds2-Raw":55.0},{"x":1087,"Ds2-Pellet":57.5,"Ds2-Raw":50.0},{"x":1068,"Ds2-Pellet":55.0,"Ds2-Raw":47.0},{"x":1055,"Ds2-Pellet":50.0,"Ds2-Raw":45.0},{"x":1042,"Ds2-Pellet":44.0,"Ds2-Raw":40.0},{"x":1025,"Ds2-Pellet":41.9,"Ds2-Raw":36.9},{"x":1012,"Ds2-Pellet":40.6,"Ds2-Raw":34.4},{"x":1000,"Ds2-Pellet":43.5,"Ds2-Raw":37.0},{"x":988,"Ds2-Pellet":46.0,"Ds2-Raw":39.5},{"x":975,"Ds2-Pellet":52.0,"Ds2-Raw":45.0},{"x":960,"Ds2-Pellet":58.0,"Ds2-Raw":53.0},{"x":945,"Ds2-Pellet":61.9,"Ds2-Raw":59.4},{"x":920,"Ds2-Pellet":64.4,"Ds2-Raw":60.6},{"x":900,"Ds2-Pellet":68.1,"Ds2-Raw":66.9},{"x":882,"Ds2-Pellet":72.1,"Ds2-Raw":70.0},{"x":865,"Ds2-Pellet":70.6,"Ds2-Raw":68.8},{"x":850,"Ds2-Pellet":71.0,"Ds2-Raw":69.0},{"x":830,"Ds2-Pellet":71.9,"Ds2-Raw":69.4},{"x":808,"Ds2-Pellet":72.1,"Ds2-Raw":68.1},{"x":790,"Ds2-Pellet":70.0,"Ds2-Raw":66.9},{"x":770,"Ds2-Pellet":66.9,"Ds2-Raw":60.6},{"x":750,"Ds2-Pellet":65.6,"Ds2-Raw":60.0},{"x":730,"Ds2-Pellet":63.1,"Ds2-Raw":57.5},{"x":710,"Ds2-Pellet":62.3,"Ds2-Raw":56.0},{"x":690,"Ds2-Pellet":61.2,"Ds2-Raw":54.5},{"x":670,"Ds2-Pellet":59.5,"Ds2-Raw":52.0},{"x":655,"Ds2-Pellet":59.2,"Ds2-Raw":51.5}],
"Ds3":[{"x":4000,"Ds3-Pellet":97.0,"Ds3-Raw":97.0},{"x":3800,"Ds3-Pellet":97.3,"Ds3-Raw":97.3},{"x":3700,"Ds3-Pellet":97.3,"Ds3-Raw":97.3},{"x":3650,"Ds3-Pellet":96.5,"Ds3-Raw":96.5},{"x":3600,"Ds3-Pellet":92.9,"Ds3-Raw":92.3},{"x":3500,"Ds3-Pellet":87.0,"Ds3-Raw":83.5},{"x":3400,"Ds3-Pellet":82.3,"Ds3-Raw":76.6},{"x":3300,"Ds3-Pellet":78.5,"Ds3-Raw":71.0},{"x":3260,"Ds3-Pellet":77.3,"Ds3-Raw":67.3},{"x":3200,"Ds3-Pellet":77.9,"Ds3-Raw":68.5},{"x":3100,"Ds3-Pellet":81.6,"Ds3-Raw":73.5},{"x":3040,"Ds3-Pellet":84.8,"Ds3-Raw":77.3},{"x":2990,"Ds3-Pellet":87.3,"Ds3-Raw":81.6},{"x":2960,"Ds3-Pellet":85.4,"Ds3-Raw":79.8},{"x":2920,"Ds3-Pellet":79.1,"Ds3-Raw":67.9},{"x":2895,"Ds3-Pellet":82.3,"Ds3-Raw":76.0},{"x":2870,"Ds3-Pellet":82.9,"Ds3-Raw":77.3},{"x":2850,"Ds3-Pellet":81.6,"Ds3-Raw":74.8},{"x":2820,"Ds3-Pellet":87.3,"Ds3-Raw":82.9},{"x":2780,"Ds3-Pellet":89.1,"Ds3-Raw":86.0},{"x":2700,"Ds3-Pellet":90.4,"Ds3-Raw":87.9},{"x":2600,"Ds3-Pellet":91.6,"Ds3-Raw":89.8},{"x":2500,"Ds3-Pellet":93.3,"Ds3-Raw":92.0},{"x":2400,"Ds3-Pellet":94.1,"Ds3-Raw":93.5},{"x":2300,"Ds3-Pellet":95.0,"Ds3-Raw":94.8},{"x":2250,"Ds3-Pellet":96.0,"Ds3-Raw":96.0},{"x":2200,"Ds3-Pellet":98.5,"Ds3-Raw":98.5},{"x":2160,"Ds3-Pellet":101.0,"Ds3-Raw":103.1},{"x":2130,"Ds3-Pellet":97.3,"Ds3-Raw":97.9},{"x":2090,"Ds3-Pellet":97.5,"Ds3-Raw":97.5},{"x":2055,"Ds3-Pellet":99.8,"Ds3-Raw":100.0},{"x":2030,"Ds3-Pellet":102.3,"Ds3-Raw":103.5},{"x":2005,"Ds3-Pellet":101.6,"Ds3-Raw":102.5},{"x":1985,"Ds3-Pellet":101.6,"Ds3-Raw":102.3},{"x":1965,"Ds3-Pellet":100.0,"Ds3-Raw":100.2},{"x":1930,"Ds3-Pellet":97.9,"Ds3-Raw":97.9},{"x":1880,"Ds3-Pellet":97.3,"Ds3-Raw":97.3},{"x":1800,"Ds3-Pellet":96.3,"Ds3-Raw":96.3},{"x":1760,"Ds3-Pellet":95.4,"Ds3-Raw":95.2},{"x":1735,"Ds3-Pellet":91.6,"Ds3-Raw":89.8},{"x":1710,"Ds3-Pellet":89.1,"Ds3-Raw":85.4},{"x":1680,"Ds3-Pellet":83.5,"Ds3-Raw":77.3},{"x":1650,"Ds3-Pellet":77.3,"Ds3-Raw":69.8},{"x":1630,"Ds3-Pellet":76.0,"Ds3-Raw":66.6},{"x":1605,"Ds3-Pellet":79.8,"Ds3-Raw":71.0},{"x":1580,"Ds3-Pellet":82.3,"Ds3-Raw":75.4},{"x":1550,"Ds3-Pellet":81.6,"Ds3-Raw":73.5},{"x":1520,"Ds3-Pellet":82.3,"Ds3-Raw":74.5},{"x":1510,"Ds3-Pellet":83.5,"Ds3-Raw":78.5},{"x":1495,"Ds3-Pellet":86.0,"Ds3-Raw":82.5},{"x":1475,"Ds3-Pellet":81.0,"Ds3-Raw":74.1},{"x":1455,"Ds3-Pellet":79.8,"Ds3-Raw":71.6},{"x":1420,"Ds3-Pellet":78.5,"Ds3-Raw":70.8},{"x":1380,"Ds3-Pellet":78.8,"Ds3-Raw":71.3},{"x":1340,"Ds3-Pellet":79.5,"Ds3-Raw":72.5},{"x":1300,"Ds3-Pellet":80.8,"Ds3-Raw":74.1},{"x":1275,"Ds3-Pellet":81.3,"Ds3-Raw":74.8},{"x":1250,"Ds3-Pellet":80.8,"Ds3-Raw":73.8},{"x":1225,"Ds3-Pellet":82.3,"Ds3-Raw":75.0},{"x":1210,"Ds3-Pellet":84.8,"Ds3-Raw":78.5},{"x":1195,"Ds3-Pellet":87.0,"Ds3-Raw":80.0},{"x":1175,"Ds3-Pellet":82.3,"Ds3-Raw":72.3},{"x":1160,"Ds3-Pellet":75.4,"Ds3-Raw":63.5},{"x":1143,"Ds3-Pellet":72.9,"Ds3-Raw":64.1},{"x":1124,"Ds3-Pellet":69.0,"Ds3-Raw":58.0},{"x":1105,"Ds3-Pellet":66.0,"Ds3-Raw":54.5},{"x":1087,"Ds3-Pellet":63.5,"Ds3-Raw":50.5},{"x":1068,"Ds3-Pellet":59.5,"Ds3-Raw":48.0},{"x":1055,"Ds3-Pellet":56.5,"Ds3-Raw":45.0},{"x":1042,"Ds3-Pellet":51.0,"Ds3-Raw":40.0},{"x":1025,"Ds3-Pellet":47.3,"Ds3-Raw":34.8},{"x":1012,"Ds3-Pellet":45.8,"Ds3-Raw":31.6},{"x":1000,"Ds3-Pellet":48.0,"Ds3-Raw":34.0},{"x":988,"Ds3-Pellet":50.5,"Ds3-Raw":38.0},{"x":975,"Ds3-Pellet":55.0,"Ds3-Raw":45.0},{"x":960,"Ds3-Pellet":62.5,"Ds3-Raw":52.0},{"x":945,"Ds3-Pellet":67.3,"Ds3-Raw":58.5},{"x":920,"Ds3-Pellet":68.5,"Ds3-Raw":61.0},{"x":900,"Ds3-Pellet":73.5,"Ds3-Raw":66.0},{"x":882,"Ds3-Pellet":76.0,"Ds3-Raw":69.8},{"x":865,"Ds3-Pellet":74.1,"Ds3-Raw":67.3},{"x":850,"Ds3-Pellet":74.5,"Ds3-Raw":67.8},{"x":830,"Ds3-Pellet":75.0,"Ds3-Raw":68.5},{"x":808,"Ds3-Pellet":74.8,"Ds3-Raw":69.1},{"x":790,"Ds3-Pellet":73.3,"Ds3-Raw":67.3},{"x":770,"Ds3-Pellet":70.4,"Ds3-Raw":62.9},{"x":750,"Ds3-Pellet":69.5,"Ds3-Raw":61.0},{"x":730,"Ds3-Pellet":67.3,"Ds3-Raw":57.3},{"x":710,"Ds3-Pellet":66.5,"Ds3-Raw":56.0},{"x":690,"Ds3-Pellet":65.8,"Ds3-Raw":54.8},{"x":670,"Ds3-Pellet":65.0,"Ds3-Raw":53.5},{"x":655,"Ds3-Pellet":64.5,"Ds3-Raw":52.3}],
"Ds4":[{"x":4000,"Ds4-Pellet":98.3,"Ds4-Raw":99.7},{"x":3800,"Ds4-Pellet":98.6,"Ds4-Raw":99.7},{"x":3700,"Ds4-Pellet":99.0,"Ds4-Raw":99.7},{"x":3650,"Ds4-Pellet":98.3,"Ds4-Raw":98.5},{"x":3600,"Ds4-Pellet":93.7,"Ds4-Raw":93.7},{"x":3500,"Ds4-Pellet":86.4,"Ds4-Raw":87.0},{"x":3400,"Ds4-Pellet":80.0,"Ds4-Raw":80.4},{"x":3300,"Ds4-Pellet":74.4,"Ds4-Raw":74.4},{"x":3260,"Ds4-Pellet":72.4,"Ds4-Raw":72.4},{"x":3200,"Ds4-Pellet":74.4,"Ds4-Raw":74.4},{"x":3100,"Ds4-Pellet":78.4,"Ds4-Raw":78.4},{"x":3040,"Ds4-Pellet":81.7,"Ds4-Raw":81.7},{"x":2990,"Ds4-Pellet":84.4,"Ds4-Raw":83.7},{"x":2960,"Ds4-Pellet":82.4,"Ds4-Raw":82.4},{"x":2920,"Ds4-Pellet":68.5,"Ds4-Raw":62.5},{"x":2895,"Ds4-Pellet":76.4,"Ds4-Raw":76.4},{"x":2870,"Ds4-Pellet":78.4,"Ds4-Raw":77.8},{"x":2850,"Ds4-Pellet":73.1,"Ds4-Raw":71.1},{"x":2820,"Ds4-Pellet":83.0,"Ds4-Raw":83.0},{"x":2780,"Ds4-Pellet":87.7,"Ds4-Raw":87.7},{"x":2700,"Ds4-Pellet":89.8,"Ds4-Raw":90.0},{"x":2600,"Ds4-Pellet":91.4,"Ds4-Raw":91.7},{"x":2500,"Ds4-Pellet":93.0,"Ds4-Raw":93.7},{"x":2400,"Ds4-Pellet":94.7,"Ds4-Raw":95.3},{"x":2300,"Ds4-Pellet":96.0,"Ds4-Raw":96.3},{"x":2250,"Ds4-Pellet":97.2,"Ds4-Raw":97.4},{"x":2200,"Ds4-Pellet":99.5,"Ds4-Raw":99.7},{"x":2160,"Ds4-Pellet":103.0,"Ds4-Raw":104.3},{"x":2130,"Ds4-Pellet":98.3,"Ds4-Raw":99.0},{"x":2090,"Ds4-Pellet":98.8,"Ds4-Raw":99.0},{"x":2055,"Ds4-Pellet":101.3,"Ds4-Raw":101.6},{"x":2030,"Ds4-Pellet":103.6,"Ds4-Raw":104.6},{"x":2005,"Ds4-Pellet":102.7,"Ds4-Raw":103.0},{"x":1985,"Ds4-Pellet":103.3,"Ds4-Raw":103.6},{"x":1965,"Ds4-Pellet":100.8,"Ds4-Raw":101.0},{"x":1930,"Ds4-Pellet":98.8,"Ds4-Raw":99.0},{"x":1880,"Ds4-Pellet":97.7,"Ds4-Raw":97.9},{"x":1800,"Ds4-Pellet":96.8,"Ds4-Raw":97.0},{"x":1760,"Ds4-Pellet":95.5,"Ds4-Raw":95.7},{"x":1735,"Ds4-Pellet":87.0,"Ds4-Raw":83.0},{"x":1710,"Ds4-Pellet":82.4,"Ds4-Raw":80.4},{"x":1680,"Ds4-Pellet":73.8,"Ds4-Raw":73.8},{"x":1650,"Ds4-Pellet":66.5,"Ds4-Raw":66.5},{"x":1630,"Ds4-Pellet":63.8,"Ds4-Raw":63.2},{"x":1605,"Ds4-Pellet":68.5,"Ds4-Raw":68.5},{"x":1580,"Ds4-Pellet":75.1,"Ds4-Raw":74.4},{"x":1550,"Ds4-Pellet":72.4,"Ds4-Raw":71.1},{"x":1520,"Ds4-Pellet":73.5,"Ds4-Raw":72.4},{"x":1510,"Ds4-Pellet":76.0,"Ds4-Raw":74.0},{"x":1495,"Ds4-Pellet":79.0,"Ds4-Raw":77.0},{"x":1475,"Ds4-Pellet":72.4,"Ds4-Raw":71.1},{"x":1455,"Ds4-Pellet":69.1,"Ds4-Raw":67.1},{"x":1420,"Ds4-Pellet":69.5,"Ds4-Raw":67.0},{"x":1380,"Ds4-Pellet":70.8,"Ds4-Raw":68.6},{"x":1340,"Ds4-Pellet":72.0,"Ds4-Raw":70.0},{"x":1300,"Ds4-Pellet":73.0,"Ds4-Raw":71.2},{"x":1275,"Ds4-Pellet":73.5,"Ds4-Raw":71.4},{"x":1250,"Ds4-Pellet":72.5,"Ds4-Raw":70.0},{"x":1225,"Ds4-Pellet":74.5,"Ds4-Raw":70.8},{"x":1210,"Ds4-Pellet":76.4,"Ds4-Raw":73.8},{"x":1195,"Ds4-Pellet":79.0,"Ds4-Raw":76.5},{"x":1175,"Ds4-Pellet":69.0,"Ds4-Raw":67.1},{"x":1160,"Ds4-Pellet":63.2,"Ds4-Raw":63.2},{"x":1143,"Ds4-Pellet":63.8,"Ds4-Raw":63.8},{"x":1124,"Ds4-Pellet":59.0,"Ds4-Raw":59.0},{"x":1105,"Ds4-Pellet":57.0,"Ds4-Raw":57.0},{"x":1087,"Ds4-Pellet":54.0,"Ds4-Raw":54.0},{"x":1068,"Ds4-Pellet":51.0,"Ds4-Raw":51.0},{"x":1055,"Ds4-Pellet":47.5,"Ds4-Raw":47.0},{"x":1042,"Ds4-Pellet":42.0,"Ds4-Raw":41.5},{"x":1025,"Ds4-Pellet":37.5,"Ds4-Raw":38.0},{"x":1012,"Ds4-Pellet":34.0,"Ds4-Raw":36.7},{"x":1000,"Ds4-Pellet":35.5,"Ds4-Raw":37.5},{"x":988,"Ds4-Pellet":40.0,"Ds4-Raw":41.0},{"x":975,"Ds4-Pellet":47.0,"Ds4-Raw":47.5},{"x":960,"Ds4-Pellet":54.0,"Ds4-Raw":54.0},{"x":945,"Ds4-Pellet":60.5,"Ds4-Raw":60.5},{"x":920,"Ds4-Pellet":62.5,"Ds4-Raw":62.5},{"x":900,"Ds4-Pellet":65.8,"Ds4-Raw":65.8},{"x":882,"Ds4-Pellet":70.5,"Ds4-Raw":70.5},{"x":865,"Ds4-Pellet":68.5,"Ds4-Raw":68.5},{"x":850,"Ds4-Pellet":69.0,"Ds4-Raw":69.0},{"x":830,"Ds4-Pellet":70.0,"Ds4-Raw":70.0},{"x":808,"Ds4-Pellet":70.8,"Ds4-Raw":70.8},{"x":790,"Ds4-Pellet":68.5,"Ds4-Raw":68.5},{"x":770,"Ds4-Pellet":64.5,"Ds4-Raw":64.5},{"x":750,"Ds4-Pellet":62.5,"Ds4-Raw":62.5},{"x":730,"Ds4-Pellet":59.2,"Ds4-Raw":59.2},{"x":710,"Ds4-Pellet":57.2,"Ds4-Raw":57.2},{"x":690,"Ds4-Pellet":55.5,"Ds4-Raw":55.5},{"x":670,"Ds4-Pellet":54.5,"Ds4-Raw":54.5},{"x":655,"Ds4-Pellet":54.0,"Ds4-Raw":54.0}]
},
"vconcat":[
{"hconcat":[
{"width":310,"height":225.5,"data":{"name":"D1"},"transform":[{"fold":["D1-Pellet","D1-Raw"],"as":["series","T"]}],
"layer":[
{"mark":{"type":"line","strokeWidth":1.8,"clip":true},
"encoding":{
"x":{"field":"x","type":"quantitative","title":"Wavenumber (cm-1)","scale":{"domain":[560,4000],"reverse":true,"nice":false,"zero":false},"axis":{"orient":"bottom","values":[4000,3750,3500,3250,3000,2750,2500,2250,2000,1750,1500,1250,1000,750],"format":"d","labelExpr":"datum.value % 500 === 0 ? datum.label : ''","tickSize":{"condition":{"test":"datum.value % 500 === 0","value":4},"value":2.5},"labelFlush":false,"labelOverlap":false}},
"y":{"field":"T","type":"quantitative","title":"Transmittance","scale":{"domain":[30,110],"nice":false,"zero":false},"axis":{"orient":"left","values":[30,35,40,45,50,55,60,65,70,75,80,85,90,95,100,105,110],"labelExpr":"datum.value % 10 === 0 ? datum.label : ''","tickSize":{"condition":{"test":"datum.value % 10 === 0","value":4},"value":2.5},"labelOverlap":false}},
"color":{"field":"series","type":"nominal","scale":{"domain":["D1-Pellet","D1-Raw"],"range":["#c04ccc","#b5391f"]},"legend":{"orient":"none","legendX":42,"legendY":163,"title":null,"symbolType":"M-2,0H2","symbolSize":342,"symbolStrokeWidth":2,"labelFontSize":16,"labelOffset":15,"rowPadding":2.5}},
"strokeDash":{"field":"series","type":"nominal","scale":{"domain":["D1-Pellet","D1-Raw"],"range":[[1,0],[6,2.5,1.5,2.5]]},"legend":{"orient":"none","legendX":42,"legendY":163,"title":null,"symbolType":"M-2,0H2","symbolSize":342,"symbolStrokeWidth":2,"labelFontSize":16,"labelOffset":15,"rowPadding":2.5}}}},
{"mark":{"type":"line","opacity":0},
"encoding":{
"x":{"field":"x","type":"quantitative","scale":{"domain":[560,4000],"reverse":true,"nice":false,"zero":false},"axis":{"orient":"top","values":[4000,3750,3500,3250,3000,2750,2500,2250,2000,1750,1500,1250,1000,750],"labels":false,"title":null,"tickSize":{"condition":{"test":"datum.value % 500 === 0","value":-4},"value":-2.5}}},
"y":{"field":"T","type":"quantitative","scale":{"domain":[30,110],"nice":false,"zero":false},"axis":{"orient":"right","values":[30,35,40,45,50,55,60,65,70,75,80,85,90,95,100,105,110],"labels":false,"title":null,"tickSize":{"condition":{"test":"datum.value % 10 === 0","value":-4},"value":-2.5}}}}}
],
"resolve":{"axis":{"x":"independent","y":"independent"}}},
{"width":314,"height":225.5,"data":{"name":"D2"},"transform":[{"fold":["D2-Pellet","D2-Raw"],"as":["series","T"]}],
"layer":[
{"mark":{"type":"line","strokeWidth":1.8,"clip":true},
"encoding":{
"x":{"field":"x","type":"quantitative","title":"Wavenumber (cm-1)","scale":{"domain":[580,4000],"reverse":true,"nice":false,"zero":false},"axis":{"orient":"bottom","values":[4000,3750,3500,3250,3000,2750,2500,2250,2000,1750,1500,1250,1000,750],"format":"d","labelExpr":"datum.value % 500 === 0 ? datum.label : ''","tickSize":{"condition":{"test":"datum.value % 500 === 0","value":4},"value":2.5},"labelFlush":false,"labelOverlap":false}},
"y":{"field":"T","type":"quantitative","title":"Transmittance","scale":{"domain":[30,110],"nice":false,"zero":false},"axis":{"orient":"left","values":[30,35,40,45,50,55,60,65,70,75,80,85,90,95,100,105,110],"labelExpr":"datum.value % 10 === 0 ? datum.label : ''","tickSize":{"condition":{"test":"datum.value % 10 === 0","value":4},"value":2.5},"labelOverlap":false}},
"color":{"field":"series","type":"nominal","scale":{"domain":["D2-Pellet","D2-Raw"],"range":["#c04ccc","#b5391f"]},"legend":{"orient":"none","legendX":49,"legendY":173,"title":null,"symbolType":"M-2,0H2","symbolSize":342,"symbolStrokeWidth":2,"labelFontSize":16,"labelOffset":15,"rowPadding":2.5}},
"strokeDash":{"field":"series","type":"nominal","scale":{"domain":["D2-Pellet","D2-Raw"],"range":[[1,0],[6,2.5,1.5,2.5]]},"legend":{"orient":"none","legendX":49,"legendY":173,"title":null,"symbolType":"M-2,0H2","symbolSize":342,"symbolStrokeWidth":2,"labelFontSize":16,"labelOffset":15,"rowPadding":2.5}}}},
{"mark":{"type":"line","opacity":0},
"encoding":{
"x":{"field":"x","type":"quantitative","scale":{"domain":[580,4000],"reverse":true,"nice":false,"zero":false},"axis":{"orient":"top","values":[4000,3750,3500,3250,3000,2750,2500,2250,2000,1750,1500,1250,1000,750],"labels":false,"title":null,"tickSize":{"condition":{"test":"datum.value % 500 === 0","value":-4},"value":-2.5}}},
"y":{"field":"T","type":"quantitative","scale":{"domain":[30,110],"nice":false,"zero":false},"axis":{"orient":"right","domain":false,"values":[30,35,40,45,50,55,60,65,70,75,80,85,90,95,100,105,110],"labels":false,"title":null,"tickSize":{"condition":{"test":"datum.value % 10 === 0","value":-4},"value":-2.5}}}}}
],
"resolve":{"axis":{"x":"independent","y":"independent"}}}
],"spacing":112,"bounds":"flush","resolve":{"scale":{"color":"independent","strokeDash":"independent"}}},
{"vconcat":[
{"hconcat":[
{"width":310,"height":225.5,"data":{"name":"D3"},"transform":[{"fold":["D3-Pellet","D3-Raw"],"as":["series","T"]}],
"layer":[
{"mark":{"type":"line","strokeWidth":1.8,"clip":true},
"encoding":{
"x":{"field":"x","type":"quantitative","title":"Wavenumber (cm-1)","scale":{"domain":[560,4000],"reverse":true,"nice":false,"zero":false},"axis":{"orient":"bottom","values":[4000,3750,3500,3250,3000,2750,2500,2250,2000,1750,1500,1250,1000,750],"format":"d","labelExpr":"datum.value % 500 === 0 ? datum.label : ''","tickSize":{"condition":{"test":"datum.value % 500 === 0","value":4},"value":2.5},"labelFlush":false,"labelOverlap":false}},
"y":{"field":"T","type":"quantitative","title":"Transmittance","scale":{"domain":[25,110],"nice":false,"zero":false},"axis":{"orient":"left","values":[30,35,40,45,50,55,60,65,70,75,80,85,90,95,100,105,110],"labelExpr":"datum.value % 10 === 0 ? datum.label : ''","tickSize":{"condition":{"test":"datum.value % 10 === 0","value":4},"value":2.5},"labelOverlap":false}},
"color":{"field":"series","type":"nominal","scale":{"domain":["D3-Pellet","D3-Raw"],"range":["#c04ccc","#b5391f"]},"legend":{"orient":"none","legendX":44,"legendY":174,"title":null,"symbolType":"M-2,0H2","symbolSize":342,"symbolStrokeWidth":2,"labelFontSize":16,"labelOffset":15,"rowPadding":2.5}},
"strokeDash":{"field":"series","type":"nominal","scale":{"domain":["D3-Pellet","D3-Raw"],"range":[[1,0],[6,2.5,1.5,2.5]]},"legend":{"orient":"none","legendX":44,"legendY":174,"title":null,"symbolType":"M-2,0H2","symbolSize":342,"symbolStrokeWidth":2,"labelFontSize":16,"labelOffset":15,"rowPadding":2.5}}}},
{"mark":{"type":"line","opacity":0},
"encoding":{
"x":{"field":"x","type":"quantitative","scale":{"domain":[560,4000],"reverse":true,"nice":false,"zero":false},"axis":{"orient":"top","values":[4000,3750,3500,3250,3000,2750,2500,2250,2000,1750,1500,1250,1000,750],"labels":false,"title":null,"tickSize":{"condition":{"test":"datum.value % 500 === 0","value":-4},"value":-2.5}}},
"y":{"field":"T","type":"quantitative","scale":{"domain":[25,110],"nice":false,"zero":false},"axis":{"orient":"right","values":[30,35,40,45,50,55,60,65,70,75,80,85,90,95,100,105,110],"labels":false,"title":null,"tickSize":{"condition":{"test":"datum.value % 10 === 0","value":-4},"value":-2.5}}}}}
],
"resolve":{"axis":{"x":"independent","y":"independent"}}},
{"width":303,"height":225.5,"data":{"name":"D4"},"transform":[{"fold":["D4-Pellet","D4-Raw"],"as":["series","T"]}],
"layer":[
{"mark":{"type":"line","strokeWidth":1.8,"clip":true},
"encoding":{
"x":{"field":"x","type":"quantitative","title":"Wavenumber (cm-1)","scale":{"domain":[633,4000],"reverse":true,"nice":false,"zero":false},"axis":{"orient":"bottom","values":[4000,3750,3500,3250,3000,2750,2500,2250,2000,1750,1500,1250,1000,750],"format":"d","labelExpr":"datum.value % 500 === 0 ? datum.label : ''","tickSize":{"condition":{"test":"datum.value % 500 === 0","value":4},"value":2.5},"labelFlush":false,"labelOverlap":false}},
"y":{"field":"T","type":"quantitative","title":"Transmittance","scale":{"domain":[30,110],"nice":false,"zero":false},"axis":{"orient":"left","values":[30,35,40,45,50,55,60,65,70,75,80,85,90,95,100,105,110],"labelExpr":"datum.value % 10 === 0 ? datum.label : ''","tickSize":{"condition":{"test":"datum.value % 10 === 0","value":4},"value":2.5},"labelOverlap":false}},
"color":{"field":"series","type":"nominal","scale":{"domain":["D4-Pellet","D4-Raw"],"range":["#c04ccc","#b5391f"]},"legend":{"orient":"none","legendX":43,"legendY":175,"title":null,"symbolType":"M-2,0H2","symbolSize":342,"symbolStrokeWidth":2,"labelFontSize":16,"labelOffset":15,"rowPadding":2.5}},
"strokeDash":{"field":"series","type":"nominal","scale":{"domain":["D4-Pellet","D4-Raw"],"range":[[1,0],[6,2.5,1.5,2.5]]},"legend":{"orient":"none","legendX":43,"legendY":175,"title":null,"symbolType":"M-2,0H2","symbolSize":342,"symbolStrokeWidth":2,"labelFontSize":16,"labelOffset":15,"rowPadding":2.5}}}},
{"mark":{"type":"line","opacity":0},
"encoding":{
"x":{"field":"x","type":"quantitative","scale":{"domain":[633,4000],"reverse":true,"nice":false,"zero":false},"axis":{"orient":"top","values":[4000,3750,3500,3250,3000,2750,2500,2250,2000,1750,1500,1250,1000,750],"labels":false,"title":null,"tickSize":{"condition":{"test":"datum.value % 500 === 0","value":-4},"value":-2.5}}},
"y":{"field":"T","type":"quantitative","scale":{"domain":[30,110],"nice":false,"zero":false},"axis":{"orient":"right","domain":false,"values":[30,35,40,45,50,55,60,65,70,75,80,85,90,95,100,105,110],"labels":false,"title":null,"tickSize":{"condition":{"test":"datum.value % 10 === 0","value":-4},"value":-2.5}}}}}
],
"resolve":{"axis":{"x":"independent","y":"independent"}}}
],"spacing":123,"bounds":"flush","resolve":{"scale":{"color":"independent","strokeDash":"independent"}}},
{"hconcat":[
{"width":310,"height":225.5,"data":{"name":"Ds1"},"transform":[{"fold":["Ds1-Pellet","Ds1-Raw"],"as":["series","T"]}],
"layer":[
{"mark":{"type":"line","strokeWidth":1.8,"clip":true},
"encoding":{
"x":{"field":"x","type":"quantitative","title":"Wavenumber (cm-1)","scale":{"domain":[560,4000],"reverse":true,"nice":false,"zero":false},"axis":{"orient":"bottom","values":[4000,3750,3500,3250,3000,2750,2500,2250,2000,1750,1500,1250,1000,750],"format":"d","labelExpr":"datum.value % 500 === 0 ? datum.label : ''","tickSize":{"condition":{"test":"datum.value % 500 === 0","value":4},"value":2.5},"labelFlush":false,"labelOverlap":false}},
"y":{"field":"T","type":"quantitative","title":"Transmittance","scale":{"domain":[25,110],"nice":false,"zero":false},"axis":{"orient":"left","values":[30,35,40,45,50,55,60,65,70,75,80,85,90,95,100,105,110],"labelExpr":"datum.value % 10 === 0 ? datum.label : ''","tickSize":{"condition":{"test":"datum.value % 10 === 0","value":4},"value":2.5},"labelOverlap":false}},
"color":{"field":"series","type":"nominal","scale":{"domain":["Ds1-Pellet","Ds1-Raw"],"range":["#b5391f","#c04ccc"]},"legend":{"orient":"none","legendX":43,"legendY":173,"title":null,"symbolType":"M-2,0H2","symbolSize":342,"symbolStrokeWidth":2,"labelFontSize":16,"labelOffset":15,"rowPadding":2.5}},
"strokeDash":{"field":"series","type":"nominal","scale":{"domain":["Ds1-Pellet","Ds1-Raw"],"range":[[6,2.5,1.5,2.5],[1,0]]},"legend":{"orient":"none","legendX":43,"legendY":173,"title":null,"symbolType":"M-2,0H2","symbolSize":342,"symbolStrokeWidth":2,"labelFontSize":16,"labelOffset":15,"rowPadding":2.5}}}},
{"mark":{"type":"line","opacity":0},
"encoding":{
"x":{"field":"x","type":"quantitative","scale":{"domain":[560,4000],"reverse":true,"nice":false,"zero":false},"axis":{"orient":"top","values":[4000,3750,3500,3250,3000,2750,2500,2250,2000,1750,1500,1250,1000,750],"labels":false,"title":null,"tickSize":{"condition":{"test":"datum.value % 500 === 0","value":-4},"value":-2.5}}},
"y":{"field":"T","type":"quantitative","scale":{"domain":[25,110],"nice":false,"zero":false},"axis":{"orient":"right","values":[30,35,40,45,50,55,60,65,70,75,80,85,90,95,100,105,110],"labels":false,"title":null,"tickSize":{"condition":{"test":"datum.value % 10 === 0","value":-4},"value":-2.5}}}}}
],
"resolve":{"axis":{"x":"independent","y":"independent"}}},
{"width":302,"height":225.5,"data":{"name":"Ds2"},"transform":[{"fold":["Ds2-Pellet","Ds2-Raw"],"as":["series","T"]}],
"layer":[
{"mark":{"type":"line","strokeWidth":1.8,"clip":true},
"encoding":{
"x":{"field":"x","type":"quantitative","title":"Wavenumber (cm-1)","scale":{"domain":[667,4000],"reverse":true,"nice":false,"zero":false},"axis":{"orient":"bottom","values":[4000,3750,3500,3250,3000,2750,2500,2250,2000,1750,1500,1250,1000,750],"format":"d","labelExpr":"datum.value % 500 === 0 ? datum.label : ''","tickSize":{"condition":{"test":"datum.value % 500 === 0","value":4},"value":2.5},"labelFlush":false,"labelOverlap":false}},
"y":{"field":"T","type":"quantitative","title":"Transmittance","scale":{"domain":[25,110],"nice":false,"zero":false},"axis":{"orient":"left","values":[30,35,40,45,50,55,60,65,70,75,80,85,90,95,100,105,110],"labelExpr":"datum.value % 10 === 0 ? datum.label : ''","tickSize":{"condition":{"test":"datum.value % 10 === 0","value":4},"value":2.5},"labelOverlap":false}},
"color":{"field":"series","type":"nominal","scale":{"domain":["Ds2-Pellet","Ds2-Raw"],"range":["#b5391f","#c04ccc"]},"legend":{"orient":"none","legendX":44,"legendY":173,"title":null,"symbolType":"M-2,0H2","symbolSize":342,"symbolStrokeWidth":2,"labelFontSize":16,"labelOffset":15,"rowPadding":2.5}},
"strokeDash":{"field":"series","type":"nominal","scale":{"domain":["Ds2-Pellet","Ds2-Raw"],"range":[[6,2.5,1.5,2.5],[1,0]]},"legend":{"orient":"none","legendX":44,"legendY":173,"title":null,"symbolType":"M-2,0H2","symbolSize":342,"symbolStrokeWidth":2,"labelFontSize":16,"labelOffset":15,"rowPadding":2.5}}}},
{"mark":{"type":"line","opacity":0},
"encoding":{
"x":{"field":"x","type":"quantitative","scale":{"domain":[667,4000],"reverse":true,"nice":false,"zero":false},"axis":{"orient":"top","values":[4000,3750,3500,3250,3000,2750,2500,2250,2000,1750,1500,1250,1000,750],"labels":false,"title":null,"tickSize":{"condition":{"test":"datum.value % 500 === 0","value":-4},"value":-2.5}}},
"y":{"field":"T","type":"quantitative","scale":{"domain":[25,110],"nice":false,"zero":false},"axis":{"orient":"right","domain":false,"values":[30,35,40,45,50,55,60,65,70,75,80,85,90,95,100,105,110],"labels":false,"title":null,"tickSize":{"condition":{"test":"datum.value % 10 === 0","value":-4},"value":-2.5}}}}}
],
"resolve":{"axis":{"x":"independent","y":"independent"}}}
],"spacing":124,"bounds":"flush","resolve":{"scale":{"color":"independent","strokeDash":"independent"}}},
{"hconcat":[
{"width":310,"height":225.5,"data":{"name":"Ds3"},"transform":[{"fold":["Ds3-Pellet","Ds3-Raw"],"as":["series","T"]}],
"layer":[
{"mark":{"type":"line","strokeWidth":1.8,"clip":true},
"encoding":{
"x":{"field":"x","type":"quantitative","title":"Wavenumber (cm-1)","scale":{"domain":[560,4000],"reverse":true,"nice":false,"zero":false},"axis":{"orient":"bottom","values":[4000,3750,3500,3250,3000,2750,2500,2250,2000,1750,1500,1250,1000,750],"format":"d","labelExpr":"datum.value % 500 === 0 ? datum.label : ''","tickSize":{"condition":{"test":"datum.value % 500 === 0","value":4},"value":2.5},"labelFlush":false,"labelOverlap":false}},
"y":{"field":"T","type":"quantitative","title":"Transmittance","scale":{"domain":[25,110],"nice":false,"zero":false},"axis":{"orient":"left","values":[30,35,40,45,50,55,60,65,70,75,80,85,90,95,100,105,110],"labelExpr":"datum.value % 10 === 0 ? datum.label : ''","tickSize":{"condition":{"test":"datum.value % 10 === 0","value":4},"value":2.5},"labelOverlap":false}},
"color":{"field":"series","type":"nominal","scale":{"domain":["Ds3-Pellet","Ds3-Raw"],"range":["#b5391f","#c04ccc"]},"legend":{"orient":"none","legendX":44,"legendY":175,"title":null,"symbolType":"M-2,0H2","symbolSize":342,"symbolStrokeWidth":2,"labelFontSize":16,"labelOffset":15,"rowPadding":2.5}},
"strokeDash":{"field":"series","type":"nominal","scale":{"domain":["Ds3-Pellet","Ds3-Raw"],"range":[[6,2.5,1.5,2.5],[1,0]]},"legend":{"orient":"none","legendX":44,"legendY":175,"title":null,"symbolType":"M-2,0H2","symbolSize":342,"symbolStrokeWidth":2,"labelFontSize":16,"labelOffset":15,"rowPadding":2.5}}}},
{"mark":{"type":"line","opacity":0},
"encoding":{
"x":{"field":"x","type":"quantitative","scale":{"domain":[560,4000],"reverse":true,"nice":false,"zero":false},"axis":{"orient":"top","values":[4000,3750,3500,3250,3000,2750,2500,2250,2000,1750,1500,1250,1000,750],"labels":false,"title":null,"tickSize":{"condition":{"test":"datum.value % 500 === 0","value":-4},"value":-2.5}}},
"y":{"field":"T","type":"quantitative","scale":{"domain":[25,110],"nice":false,"zero":false},"axis":{"orient":"right","values":[30,35,40,45,50,55,60,65,70,75,80,85,90,95,100,105,110],"labels":false,"title":null,"tickSize":{"condition":{"test":"datum.value % 10 === 0","value":-4},"value":-2.5}}}}}
],
"resolve":{"axis":{"x":"independent","y":"independent"}}},
{"width":298,"height":225.5,"data":{"name":"Ds4"},"transform":[{"fold":["Ds4-Pellet","Ds4-Raw"],"as":["series","T"]}],
"layer":[
{"mark":{"type":"line","strokeWidth":1.8,"clip":true},
"encoding":{
"x":{"field":"x","type":"quantitative","title":"Wavenumber (cm-1)","scale":{"domain":[689,4000],"reverse":true,"nice":false,"zero":false},"axis":{"orient":"bottom","values":[4000,3750,3500,3250,3000,2750,2500,2250,2000,1750,1500,1250,1000,750],"format":"d","labelExpr":"datum.value % 500 === 0 ? datum.label : ''","tickSize":{"condition":{"test":"datum.value % 500 === 0","value":4},"value":2.5},"labelFlush":false,"labelOverlap":false}},
"y":{"field":"T","type":"quantitative","title":"Transmittance","scale":{"domain":[25,115],"nice":false,"zero":false},"axis":{"orient":"left","values":[30,35,40,45,50,55,60,65,70,75,80,85,90,95,100,105,110,115],"labelExpr":"datum.value % 10 === 0 ? datum.label : ''","tickSize":{"condition":{"test":"datum.value % 10 === 0","value":4},"value":2.5},"labelOverlap":false}},
"color":{"field":"series","type":"nominal","scale":{"domain":["Ds4-Pellet","Ds4-Raw"],"range":["#b5391f","#c04ccc"]},"legend":{"orient":"none","legendX":45,"legendY":173,"title":null,"symbolType":"M-2,0H2","symbolSize":342,"symbolStrokeWidth":2,"labelFontSize":16,"labelOffset":15,"rowPadding":2.5}},
"strokeDash":{"field":"series","type":"nominal","scale":{"domain":["Ds4-Pellet","Ds4-Raw"],"range":[[6,2.5,1.5,2.5],[1,0]]},"legend":{"orient":"none","legendX":45,"legendY":173,"title":null,"symbolType":"M-2,0H2","symbolSize":342,"symbolStrokeWidth":2,"labelFontSize":16,"labelOffset":15,"rowPadding":2.5}}}},
{"mark":{"type":"line","opacity":0},
"encoding":{
"x":{"field":"x","type":"quantitative","scale":{"domain":[689,4000],"reverse":true,"nice":false,"zero":false},"axis":{"orient":"top","values":[4000,3750,3500,3250,3000,2750,2500,2250,2000,1750,1500,1250,1000,750],"labels":false,"title":null,"tickSize":{"condition":{"test":"datum.value % 500 === 0","value":-4},"value":-2.5}}},
"y":{"field":"T","type":"quantitative","scale":{"domain":[25,115],"nice":false,"zero":false},"axis":{"orient":"right","domain":false,"values":[30,35,40,45,50,55,60,65,70,75,80,85,90,95,100,105,110,115],"labels":false,"title":null,"tickSize":{"condition":{"test":"datum.value % 10 === 0","value":-4},"value":-2.5}}}}}
],
"resolve":{"axis":{"x":"independent","y":"independent"}}}
],"spacing":128,"bounds":"flush","resolve":{"scale":{"color":"independent","strokeDash":"independent"}}}
],"spacing":25.5,"resolve":{"scale":{"color":"independent","strokeDash":"independent"}}}
],
"spacing":19,"resolve":{"scale":{"color":"independent","strokeDash":"independent"}}
}
